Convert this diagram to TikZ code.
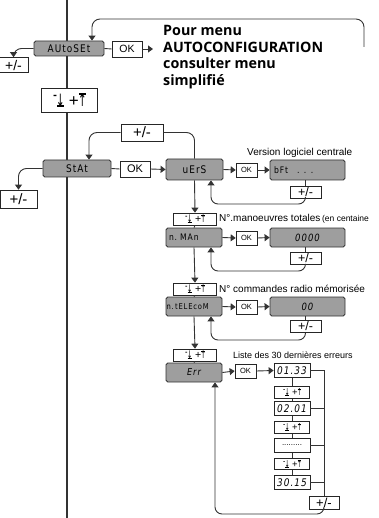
\documentclass[tikz,border=0pt]{standalone}
\usepackage{fontspec}
\setmainfont{Liberation Sans}
\newfontfamily\boldf{Open Sans}
\newfontfamily\symf{DejaVu Sans}
\newfontfamily\lcdf[FakeStretch=0.85,LetterSpace=10]{DejaVu Sans}
\usetikzlibrary{arrows.meta}
\tikzset{
  lcd/.style={draw=black!80, fill=black!38, rounded corners=1.8pt, line width=0.8pt, inner sep=0pt, font=\lcdf\fontsize{10.5}{11}\selectfont},
  wbox/.style={draw=black!85, fill=white, line width=0.7pt, inner sep=0pt},
  conn/.style={draw=black!80, line width=0.9pt},
  arr/.style={conn, -{Triangle[length=5pt,width=7pt]}},
  mainline/.style={draw=black!80, line width=2.4pt},
  lbl/.style={inner sep=0pt, anchor=west, font=\fontsize{10}{12}\selectfont}
}
\newcommand{\dnb}{\leavevmode\hbox{\setbox0\hbox{\symf\scalebox{0.6}[1]{↓}}\copy0\kern-\wd0\kern0.05em\rule[-0.03em]{\dimexpr\wd0-0.1em\relax}{0.09em}}}
\newcommand{\upb}{\leavevmode\hbox{\setbox0\hbox{\symf\scalebox{0.6}[1]{↑}}\copy0\kern-\wd0\kern0.05em\rule[\dimexpr\ht0-0.07em\relax]{\dimexpr\wd0-0.1em\relax}{0.09em}}\kern-0.05em}
\newcommand{\updn}{\raisebox{0.6ex}{\scalebox{0.7}[1]{-}}\kern-0.05em\dnb\kern0.3em+\kern-0.05em\upb}
\begin{document}
\begin{tikzpicture}[x=1pt,y=-1pt]
\useasboundingbox (0,0) rectangle (379,518);
% main vertical line
\coordinate (mtop) at (67,0);
\coordinate (mbot) at (67,518);
\draw[mainline] (mtop) -- (mbot);

% AUTOSET row
\node[lcd, minimum width=70pt, minimum height=15pt] (auto) at (69,48.5) {AUtoSEt};
\node[wbox, minimum width=30pt, minimum height=16pt, font=\fontsize{10.5}{10}\selectfont] (ok1) at (127,49) {OK};
\coordinate (okarr) at (153,49);
\draw[conn] (auto.east) -- (ok1.west);
\draw[arr] (ok1.east) -- (okarr);
\node[inner sep=0pt, anchor=north west, align=left, font=\boldf\bfseries\fontsize{14.3}{16.5}\selectfont] (txt) at (163,25.5) {Pour menu\\AUTOCONFIGURATION\\consulter menu\\simplifié};
\coordinate (tlEnd) at (364,47);
\coordinate (c1) at (92,19);
\draw[arr, rounded corners=8pt] (tlEnd) |- (c1) -- (c1 |- auto.north);
\node[wbox, minimum width=29pt, minimum height=15pt, font=\fontsize{14}{14}\selectfont] (pm1) at (13.5,65) {+/-};
\draw[arr, rounded corners=8pt] (auto.west) -| (pm1.north);
\node[wbox, minimum width=56pt, minimum height=24pt, font=\fontsize{17}{17}\selectfont] (ud1) at (69,100) {\updn};

% STAT row
\node[wbox, minimum width=42pt, minimum height=17pt, font=\fontsize{15}{15}\selectfont] (pmT) at (142,132.5) {+/-};
\node[lcd, minimum width=68pt, minimum height=17pt] (stat) at (77,168.5) {StAt};
\node[wbox, minimum width=30pt, minimum height=16pt, font=\fontsize{11}{10}\selectfont] (ok2) at (135,169) {OK};
\node[lcd, minimum width=57pt, minimum height=21pt] (uers) at (194.5,169.5) {uErS};
\node[wbox, minimum width=37pt, minimum height=18pt, font=\fontsize{15}{15}\selectfont] (pm2) at (18.5,199) {+/-};
\draw[arr, rounded corners=8pt] (pmT.west) -| ([xshift=12pt]stat.north);
\draw[conn, rounded corners=8pt] (pmT.east) -| (uers.north);
\draw[conn] (stat.east) -- (ok2.west);
\draw[arr] (ok2.east) -- (uers.west);
\draw[arr, rounded corners=8pt] (stat.west) -| (pm2.north);

% uErS row
\node[wbox, minimum width=21pt, minimum height=14pt, font=\fontsize{7.5}{7}\selectfont] (oks1) at (246.5,170) {OK};
\node[lcd, minimum width=75pt, minimum height=20pt, text width=67pt, align=left, font=\lcdf\fontsize{9}{9}\selectfont] (bft) at (307.5,170) {bFt\ \ \ . . .};
\node[lbl] (t1) at (247,153) {Version logiciel centrale};
\node[wbox, minimum width=31pt, minimum height=12pt, font=\fontsize{12.5}{12}\selectfont] (pmS1) at (305.5,192) {+/-};
\draw[arr] (uers.east) -- (oks1.west);
\draw[arr] (oks1.east) -- (bft.west);
\draw[conn] (pmS1.north |- bft.south) -- (pmS1.north);
\coordinate (r1) at (211,204);
\draw[arr, rounded corners=7pt] (pmS1.south) |- (r1) -- (r1 |- uers.south);

% n. MAn row
\node[wbox, minimum width=43pt, minimum height=12pt, font=\fontsize{10.5}{10}\selectfont] (ud2) at (195,219) {\updn};
\node[lbl, anchor=west] (t2) at (219,219) {N°.manoeuvres totales\,{\fontsize{8.5}{10}\selectfont(en centaine}};
\node[lcd, minimum width=56pt, minimum height=19pt, text width=50pt, align=left, font=\lcdf\fontsize{9}{9}\selectfont] (nman) at (194,237.5) {n.\ MAn};
\node[wbox, minimum width=21pt, minimum height=14pt, font=\fontsize{7.5}{7}\selectfont] (oks2) at (246.5,238) {OK};
\node[lcd, minimum width=75pt, minimum height=19pt, font=\lcdf\itshape\fontsize{10}{10}\selectfont] (v0) at (307.5,237.5) {0000};
\node[wbox, minimum width=31pt, minimum height=12pt, font=\fontsize{12.5}{12}\selectfont] (pmS2) at (305.5,258) {+/-};
\draw[arr] (uers.south) -- (ud2.north);
\draw[conn] (ud2.south) -- (nman.north);
\draw[arr] (nman.east) -- (oks2.west);
\draw[arr] (oks2.east) -- (v0.west);
\draw[conn] (pmS2.north |- v0.south) -- (pmS2.north);
\coordinate (r2) at (211,271);
\draw[arr, rounded corners=7pt] (pmS2.south) |- (r2) -- (r2 |- nman.south);

% n. tELEcoM row
\node[wbox, minimum width=43pt, minimum height=12pt, font=\fontsize{10.5}{10}\selectfont] (ud3) at (195,289) {\updn};
\node[lbl, anchor=west] (t3) at (219,289) {N° commandes radio mémorisée};
\node[lcd, minimum width=56pt, minimum height=19pt, text width=55pt, align=left, font=\lcdf\fontsize{8}{8}\selectfont] (ntel) at (194,306.5) {n.\,tELEcoM};
\node[wbox, minimum width=21pt, minimum height=14pt, font=\fontsize{7.5}{7}\selectfont] (oks3) at (246.5,307) {OK};
\node[lcd, minimum width=75pt, minimum height=19pt, font=\lcdf\itshape\fontsize{10}{10}\selectfont] (v00) at (307.5,306.5) {00};
\node[wbox, minimum width=31pt, minimum height=12pt, font=\fontsize{12.5}{12}\selectfont] (pmS3) at (305.5,326.5) {+/-};
\draw[arr] (nman.south) -- (ud3.north);
\draw[conn] (ud3.south) -- (ntel.north);
\draw[arr] (ntel.east) -- (oks3.west);
\draw[arr] (oks3.east) -- (v00.west);
\draw[conn] (pmS3.north |- v00.south) -- (pmS3.north);
\coordinate (r3) at (211,340);
\draw[arr, rounded corners=7pt] (pmS3.south) |- (r3) -- (r3 |- ntel.south);

% Err row
\node[wbox, minimum width=43pt, minimum height=12pt, font=\fontsize{10.5}{10}\selectfont] (ud4) at (195,355) {\updn};
\node[lbl, anchor=west, font=\fontsize{9}{10}\selectfont] (t4) at (233,355) {Liste des 30 dernières erreurs};
\node[lcd, minimum width=56pt, minimum height=19pt, font=\lcdf\itshape\fontsize{9.5}{9}\selectfont] (err) at (194,372.5) {Err};
\node[wbox, minimum width=21pt, minimum height=14pt, font=\fontsize{7.5}{7}\selectfont] (oks4) at (245.5,371) {OK};
\draw[arr] (ntel.south) -- (ud4.north);
\draw[conn] (ud4.south) -- (err.north);
\draw[arr] (err.east) -- (oks4.west);

\tikzset{ebox/.style={wbox, line width=0.8pt, minimum width=36pt, minimum height=14.5pt, font=\lcdf\itshape\fontsize{10.5}{10}\selectfont},
         ubox/.style={wbox, minimum width=35pt, minimum height=11.5pt, font=\fontsize{9.5}{9}\selectfont}}
\node[ebox] (e1) at (292,370.5) {01.33};
\node[ubox] (u1) at (292,392.5) {\updn};
\node[ebox] (e2) at (292,408.5) {02.01};
\node[ubox] (u2) at (292,427.5) {\updn};
\node[ebox, font=\fontsize{8}{8}\selectfont] (e3) at (292,445.5) {.........};
\node[ubox] (u3) at (292,464) {\updn};
\node[ebox] (e4) at (292,482.5) {30.15};
\node[wbox, minimum width=30pt, minimum height=13pt, font=\fontsize{13}{12}\selectfont] (pmE) at (324,502.5) {+/-};
\draw[arr] (oks4.east) -- (e1.west);
\draw[conn] (e1) -- (u1) -- (e2) -- (u2) -- (e3) -- (u3) -- (e4);
\draw[conn] (e1.east) -- (e1.east -| pmE.north) -- (pmE.north);
\draw[conn] (e2.east) -- (e2.east -| pmE.north);
\draw[conn] (e3.east) -- (e3.east -| pmE.north);
\draw[conn] (e4.east) -- (e4.east -| pmE.north);
\coordinate (r4) at (215,514);
\draw[arr, rounded corners=7pt] (pmE.south) |- (r4) -- (r4 |- err.south);
\end{tikzpicture}
\end{document}
